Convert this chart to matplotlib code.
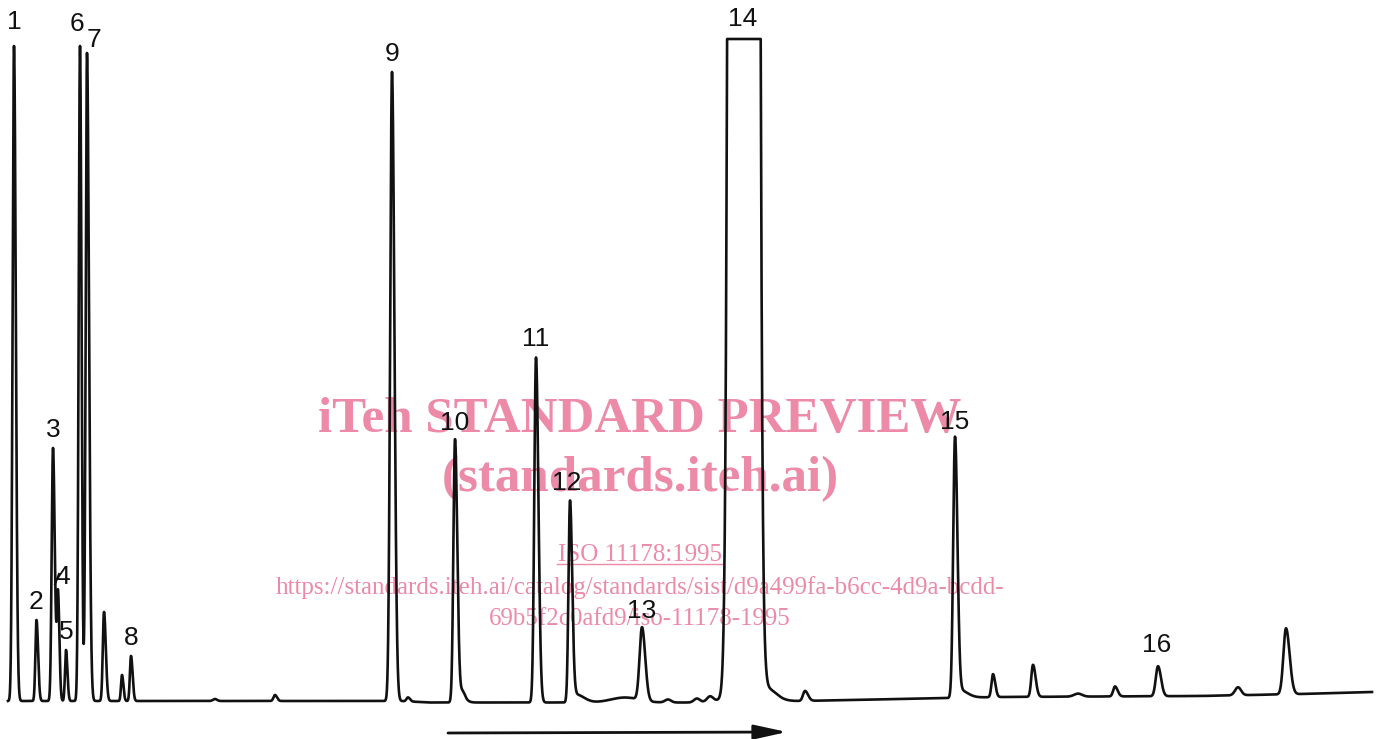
import numpy as np
import matplotlib
matplotlib.use('Agg')
import matplotlib.pyplot as plt

# Peak table (retention in chart units, height above baseline)
peak_pos = [14, 36.5, 53, 58, 66, 80, 87, 104, 122, 131, 215, 275,
            392, 408, 455, 459, 463, 536, 570, 576, 625, 642, 668, 697, 710,
            743.5, 767, 805, 955, 959, 993, 1033, 1078, 1115, 1158, 1238, 1286]
peak_height = [655, 81, 253, 106, 51, 655, 648, 89, 26, 45, 2, 6,
               629, 4, 262, 10, 4, 345, 201, 8, 5, 73, 3, 4, 5,
               75500, 12, 10, 258, 8, 23, 32, 3, 10, 30, 8, 66]
peak_sig_left = [1.4, 1.1, 1.3, 1.1, 1.0, 1.3, 1.3, 1.2, 1.0, 1.1, 2, 1.5,
                 1.8, 1.5, 1.6, 2.0, 1.5, 1.7, 1.5, 3.0, 14, 2.4, 3, 3, 3,
                 5.36, 3.0, 2.0, 1.8, 3.0, 1.5, 1.7, 4, 1.8, 2.2, 3, 2.6]
peak_sig_right = [1.8, 1.6, 1.8, 1.4, 1.4, 1.5, 2.0, 1.8, 1.4, 1.6, 2, 2.0,
                  2.4, 2.0, 2.2, 5.0, 2.0, 2.4, 2.2, 8, 14, 3.2, 3, 3, 3,
                  5.6, 9, 3.0, 2.4, 8.0, 2.2, 2.6, 4, 2.6, 3.0, 3, 3.6]

# Baseline drift read at a few retention points
base_pos = [8, 400, 430, 700, 720, 800, 950, 1000, 1200, 1300, 1372]
base_level = [0, 0, -1.5, -1.5, 1, 0, 3, 4, 5, 7, 9]

# Recorder full scale (peak 14 is clipped there)
full_scale = 662

peak_labels = ['1', '2', '3', '4', '5', '6', '7', '8', '9', '10',
               '11', '12', '13', '14', '15', '16']
label_peak_index = [0, 1, 2, 3, 4, 5, 6, 9, 12, 14, 17, 18, 21, 25, 28, 34]

# watermark text
wm_title = 'iTeh STANDARD PREVIEW'
wm_site = '(standards.iteh.ai)'
wm_std = 'ISO 11178:1995'
wm_url1 = 'https://standards.iteh.ai/catalog/standards/sist/d9a499fa-b6cc-4d9a-bcdd-'
wm_url2 = '69b5f2c0afd9/iso-11178-1995'

# build the trace
t = np.arange(8, 1372.05, 0.1)
signal = np.interp(t, base_pos, base_level)
for x0, h, sl, sr in zip(peak_pos, peak_height, peak_sig_left, peak_sig_right):
    s = np.where(t < x0, sl, sr)
    signal = signal + h * np.exp(-0.5 * ((t - x0) / s) ** 2)
signal = np.minimum(signal, full_scale)

fig = plt.figure(figsize=(13.8, 7.39), dpi=100)
ax = fig.add_axes([0, 0, 1, 1])
ax.set_xlim(0, 1380)
ax.set_ylim(-38, 701)
ax.axis('off')

ax.plot(t, signal, color='#111111', lw=1.9, solid_joinstyle='round', zorder=3)

# peak numbers
nudge = {'4': (5, 0), '6': (-3, 4), '7': (7, -5), '1': (0, 6), '14': (-1, 2),
         '16': (-1, 3), '12': (-3, 0), '2': (-1, 0)}
for lab, idx in zip(peak_labels, label_peak_index):
    x0 = peak_pos[idx]
    top = min(peak_height[idx] + np.interp(x0, base_pos, base_level), full_scale)
    dx, dy = nudge.get(lab, (0, 0))
    ax.text(x0 + dx, top + 18 + dy, lab, ha='center', va='center', fontsize=19,
            family='Liberation Sans', color='#111111', zorder=4)

# small leader mark next to label 4
ax.plot([55, 59], [117, 127], color='#111111', lw=1.5, zorder=4)

# direction arrow under the trace
ax.annotate('', xy=(787, -31), xytext=(448, -32),
            arrowprops=dict(arrowstyle='-|>,head_length=1.0,head_width=0.22',
                            lw=2.0, color='#111111', mutation_scale=20,
                            shrinkA=0, shrinkB=0))

# watermark, kept under the trace and labels
pink = '#ec8aa8'
W, H = 1380.0, 739.0
tr = ax.transAxes
ax.text(640 / W, 1 - 432 / H, wm_title, ha='center', va='baseline', fontsize=36.7,
        family='Liberation Serif', weight='bold', color=pink, zorder=1, transform=tr)
ax.text(640 / W, 1 - 491 / H, wm_site, ha='center', va='baseline', fontsize=36.7,
        family='Liberation Serif', weight='bold', color=pink, zorder=1, transform=tr)
ax.text(640 / W, 1 - 561 / H, wm_std, ha='center', va='baseline', fontsize=18,
        family='Liberation Serif', color=pink, zorder=1, transform=tr)
ax.plot([557 / W, 722 / W], [1 - 564 / H, 1 - 564 / H], color=pink, lw=1.0,
        zorder=1, transform=tr)
ax.text(640 / W, 1 - 594 / H, wm_url1, ha='center', va='baseline', fontsize=18,
        family='Liberation Serif', color=pink, zorder=1, transform=tr)
ax.text(640 / W, 1 - 625 / H, wm_url2, ha='center', va='baseline', fontsize=18,
        family='Liberation Serif', color=pink, zorder=1, transform=tr)

fig.savefig('out.png', dpi=100, facecolor='white')
